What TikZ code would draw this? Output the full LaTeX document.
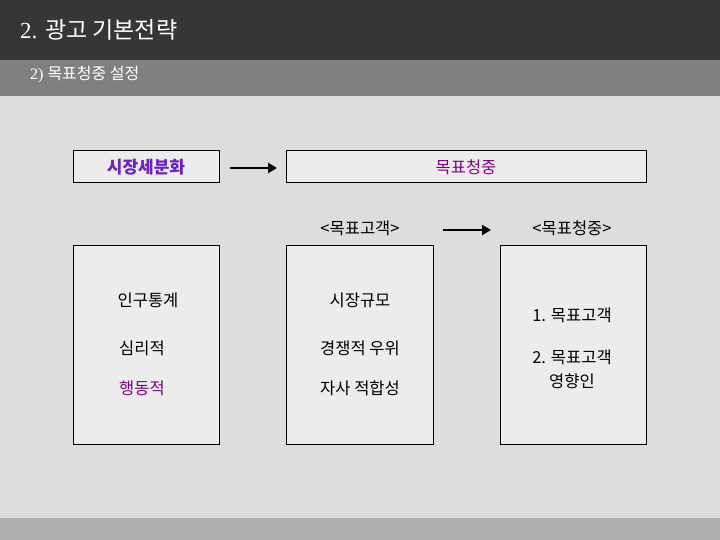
\documentclass[tikz,border=0pt]{standalone}
\usepackage{fontspec}
\setmainfont{Liberation Serif}
\newfontfamily\kr{Noto Sans CJK KR}
\usetikzlibrary{arrows.meta}
\definecolor{darkbar}{HTML}{363636}
\definecolor{midbar}{HTML}{808080}
\definecolor{panel}{HTML}{DDDDDD}
\definecolor{boxfill}{HTML}{ECECEC}
\definecolor{botbar}{HTML}{B0B0B0}
\definecolor{violet}{HTML}{6A1FD0}
\definecolor{purp}{HTML}{800080}
\tikzset{
  panelbox/.style={draw=black, line width=1pt, fill=boxfill},
  lbl/.style={font=\kr\fontsize{16.5}{20}\selectfont, inner sep=0pt},
  bigarrow/.style={-{Triangle[length=9pt,width=10pt]}, line width=2.8pt}
}
\begin{document}
\begin{tikzpicture}[x=1pt,y=-1pt]
\useasboundingbox (0,0) rectangle (720,540);
\fill[darkbar] (0,0) rectangle (720,60);
\fill[midbar] (0,60) rectangle (720,96);
\fill[panel] (0,96) rectangle (720,518);
\fill[botbar] (0,518) rectangle (720,540);
\node[anchor=west, text=white, inner sep=0pt, font=\fontsize{23}{27}\selectfont] (title) at (20,30) {2. {\kr 광고 기본전략}};
\node[anchor=west, text=white, inner sep=0pt, font=\fontsize{16}{19}\selectfont] (sub) at (30,75) {2) {\kr 목표청중 설정}};
% top row
\node[panelbox, minimum width=146pt, minimum height=32pt] (seg) at (146,167) {};
\node[lbl, text=violet, font=\kr\bfseries\fontsize{17}{20}\selectfont] (segt) at (146,167) {시장세분화};
\node[panelbox, minimum width=360pt, minimum height=32pt] (tgt) at (466,167) {};
\node[lbl, text=purp] (tgtt) at (466,167) {목표청중};
\coordinate (a1s) at (230,168);
\coordinate (a1e) at (277,168);
\draw[bigarrow] (a1s) -- (a1e);
\node[lbl] (h1) at (360,228) {<목표고객>};
\node[lbl] (h2) at (572,228) {<목표청중>};
\coordinate (a2s) at (443,230);
\coordinate (a2e) at (491,230);
\draw[bigarrow] (a2s) -- (a2e);
% boxes
\node[panelbox, minimum width=146pt, minimum height=199pt] (b1) at (146,345) {};
\node[panelbox, minimum width=147pt, minimum height=199pt] (b2) at (359.5,345) {};
\node[panelbox, minimum width=146pt, minimum height=199pt] (b3) at (573,345) {};
\node[lbl] (t11) at (148,300) {인구통계};
\node[lbl] (t12) at (142,348) {심리적};
\node[lbl, text=purp] (t13) at (142,388) {행동적};
\node[lbl] (t21) at (360,300) {시장규모};
\node[lbl] (t22) at (360,348) {경쟁적 우위};
\node[lbl] (t23) at (360,388) {자사 적합성};
\node[lbl] (t31) at (572,315) {1. 목표고객};
\node[lbl, align=center, font=\kr\fontsize{16.5}{24}\selectfont] (t32) at (572,369) {2. 목표고객\\영향인};
\end{tikzpicture}
\end{document}
